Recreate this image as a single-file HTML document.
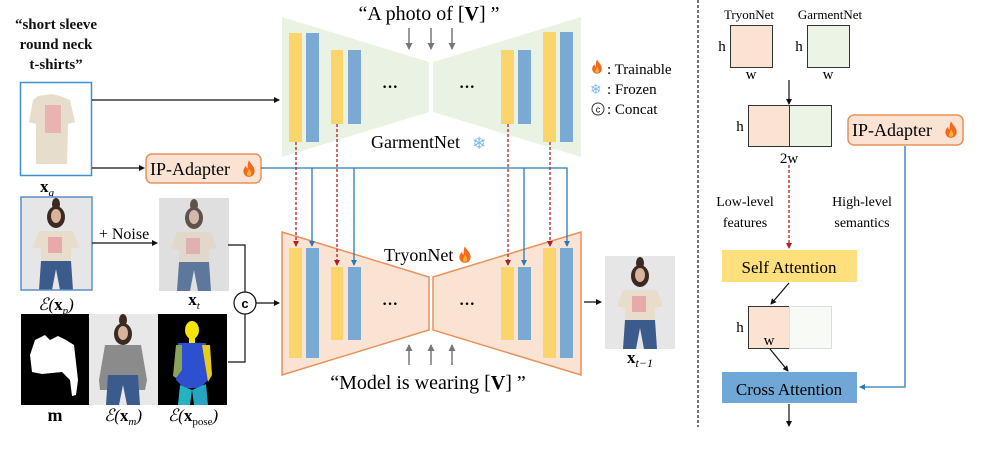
<!DOCTYPE html>
<html><head><meta charset="utf-8"><style>
html,body{margin:0;padding:0;background:#fff;}
svg{display:block;font-family:"Liberation Serif",serif;}
</style></head><body>
<svg width="994" height="456" viewBox="0 0 994 456" xmlns="http://www.w3.org/2000/svg">
<defs>
<marker id="ak" markerWidth="6" markerHeight="6" refX="5" refY="3" orient="auto" markerUnits="userSpaceOnUse"><path d="M0,0 L6,3 L0,6 Z" fill="#111"/></marker>
<marker id="ab" markerWidth="6" markerHeight="6" refX="5" refY="3" orient="auto" markerUnits="userSpaceOnUse"><path d="M0,0 L6,3 L0,6 Z" fill="#2a7ab8"/></marker>
<marker id="ar" markerWidth="6" markerHeight="6" refX="5" refY="3" orient="auto" markerUnits="userSpaceOnUse"><path d="M0,0 L6,3 L0,6 Z" fill="#b02020"/></marker>
<marker id="ag" markerWidth="7" markerHeight="7" refX="6" refY="3.5" orient="auto" markerUnits="userSpaceOnUse"><path d="M0,0 L7,3.5 L0,7 Z" fill="#777"/></marker>
<symbol id="fl" viewBox="0 0 10 12"><path d="M5,0 C6,3 9,4 9,8 C9,10.5 7,12 5,12 C3,12 1,10.5 1,8 C1,6 2,5 3,4 C3,6 4,6 4,6 C4,4 4,2 5,0Z" fill="#f26b1d"/><path d="M5,6 C6,8 7,9 6.5,10.5 C6,11.5 4,11.5 3.6,10.5 C3.3,9.3 4.5,8 5,6Z" fill="#fbb03b"/></symbol>
<g id="person">
<rect x="0" y="0" width="70" height="93" fill="#e6e6e6"/>
<ellipse cx="35" cy="7" rx="4" ry="6" fill="#3a2a22"/>
<ellipse cx="35" cy="20" rx="9" ry="11" fill="#3a2a22"/>
<ellipse cx="35" cy="19" rx="5" ry="7" fill="#d9b39c"/>
<path d="M18,34 L52,34 L58,50 L50,52 L50,64 L20,64 L20,52 L12,50 Z" fill="#e8dccb"/>
<rect x="27" y="40" width="14" height="16" fill="#e7a9a9"/>
<path d="M20,64 L50,64 L52,93 L39,93 L35,72 L31,93 L18,93 Z" fill="#3a5b8c"/>
</g>
</defs>

<!-- Left text -->
<g font-weight="bold" font-size="15" text-anchor="middle" fill="#111">
<text x="56" y="29">“short sleeve</text>
<text x="56" y="49">round neck</text>
<text x="56" y="69">t-shirts”</text>
</g>

<!-- garment image -->
<rect x="20.5" y="82.5" width="71" height="93" fill="#fff" stroke="#3f8fd0" stroke-width="1.5"/>
<path d="M38,96 L52,94 L60,96 L70,100 L75,122 L68,124 L67,164 L36,164 L36,124 L29,122 L33,100 Z" fill="#e6ddcd"/>
<rect x="45" y="105" width="16" height="28" fill="#e9a9a9" opacity="0.8"/>
<text x="47" y="192" font-size="17" font-weight="bold" text-anchor="middle">x<tspan font-size="11" font-style="italic" font-weight="normal" dy="4">g</tspan></text>

<!-- arrows from garment -->
<line x1="92" y1="100" x2="279" y2="100" stroke="#111" stroke-width="1.2" marker-end="url(#ak)"/>
<line x1="92" y1="168" x2="144" y2="168" stroke="#111" stroke-width="1.2" marker-end="url(#ak)"/>

<!-- IP adapter -->
<rect x="146" y="154" width="115" height="29" rx="6" fill="#fbe3d4" stroke="#e8915a" stroke-width="1.5"/>
<text x="150" y="175" font-size="18">IP-Adapter</text>
<use href="#fl" x="242" y="160" width="14" height="17"/>

<!-- person -->
<use href="#person" transform="translate(21,197)"/>
<rect x="21" y="197" width="71" height="93" fill="none" stroke="#5b8fc9" stroke-width="1.5"/>
<text x="56" y="310" font-size="17" text-anchor="middle" font-style="italic">ℰ(<tspan font-weight="bold" font-style="normal">x</tspan><tspan font-size="11" dy="4">p</tspan><tspan dy="-4">)</tspan></text>
<text x="124" y="239" font-size="16" text-anchor="middle">+ Noise</text>
<line x1="92" y1="243" x2="157" y2="243" stroke="#111" stroke-width="1.2" marker-end="url(#ak)"/>
<use href="#person" transform="translate(159,198)"/>
<rect x="159" y="198" width="70" height="93" fill="#ccc" opacity="0.25"/>
<text x="194" y="305" font-size="17" font-weight="bold" text-anchor="middle">x<tspan font-size="11" font-style="italic" font-weight="normal" dy="4">t</tspan></text>

<!-- bottom images -->
<rect x="21" y="314" width="68" height="91" fill="#000"/>
<path d="M35,340 L45,335 L50,340 L58,336 L66,340 L74,345 L78,380 L76,395 L72,396 L70,380 L62,372 L42,374 L32,372 L30,355 Z" fill="#fff"/>
<g><rect x="89" y="314" width="69" height="91" fill="#e8e8e8"/>
<ellipse cx="123" cy="320" rx="4" ry="6" fill="#3a2a22"/>
<ellipse cx="123" cy="334" rx="9" ry="11" fill="#3a2a22"/>
<ellipse cx="123" cy="333" rx="5" ry="7" fill="#d9b39c"/>
<path d="M105,345 L141,345 L147,380 L145,390 L138,390 L138,375 L108,375 L108,390 L100,390 L99,380 Z" fill="#8b8b8b"/>
<path d="M108,375 L138,375 L140,405 L127,405 L123,385 L119,405 L106,405 Z" fill="#3a5b8c"/></g>
<rect x="158" y="314" width="69" height="91" fill="#000"/>
<ellipse cx="192" cy="330" rx="7" ry="9" fill="#f5e50a"/>
<rect x="189" y="337" width="6" height="6" fill="#f5e50a"/>
<path d="M178,343 L206,343 L208,380 L200,388 L184,388 L176,380 Z" fill="#2d4fd0"/>
<path d="M176,345 L182,345 L182,370 L176,378 L173,376 Z" fill="#8aa35a"/>
<path d="M202,345 L210,345 L212,375 L208,382 Z" fill="#e8cc1a"/>
<path d="M180,385 L192,390 L190,405 L178,405 Z" fill="#25b3c4"/>
<path d="M192,390 L206,384 L208,405 L194,405 Z" fill="#27a5c2"/>
<text x="55" y="421" font-size="18" font-weight="bold" text-anchor="middle">m</text>
<text x="123" y="421" font-size="17" text-anchor="middle" font-style="italic">ℰ(<tspan font-weight="bold" font-style="normal">x</tspan><tspan font-size="11" dy="4">m</tspan><tspan dy="-4">)</tspan></text>
<text x="193" y="421" font-size="17" text-anchor="middle" font-style="italic">ℰ(<tspan font-weight="bold" font-style="normal">x</tspan><tspan font-size="11" font-style="normal" dy="4">pose</tspan><tspan dy="-4">)</tspan></text>

<!-- concat lines -->
<polyline points="228,245 245,245 245,292" fill="none" stroke="#111" stroke-width="1.2"/>
<polyline points="228,362 245,362 245,314" fill="none" stroke="#111" stroke-width="1.2"/>
<circle cx="245" cy="303" r="11" fill="#fff" stroke="#111" stroke-width="1.2"/>
<text x="245" y="308" font-size="13" text-anchor="middle" font-family="Liberation Sans,sans-serif" font-weight="bold">c</text>
<line x1="256" y1="303" x2="279" y2="303" stroke="#111" stroke-width="1.2" marker-end="url(#ak)"/>

<!-- GarmentNet trapezoids -->
<path d="M282,17 L429,62 L429,112 L282,157 Z" fill="#eaf3e3"/>
<path d="M433,62 L581,17 L581,157 L433,112 Z" fill="#eaf3e3"/>
<!-- TryonNet trapezoids -->
<path d="M282,232 L429,277 L429,330 L282,375 Z" fill="#fbe3d4" stroke="#e8915a" stroke-width="1.5"/>
<path d="M433,277 L581,232 L581,375 L433,330 Z" fill="#fbe3d4" stroke="#e8915a" stroke-width="1.5"/>

<!-- bars garment -->
<g fill="#f9d56b"><rect x="289" y="33" width="13" height="109"/><rect x="331" y="50" width="12" height="74"/><rect x="501" y="50" width="13" height="74"/><rect x="543" y="32" width="13" height="110"/>
<rect x="289" y="248" width="13" height="110"/><rect x="331" y="267" width="12" height="73"/><rect x="501" y="267" width="13" height="73"/><rect x="543" y="248" width="13" height="110"/></g>
<g fill="#7aaad3"><rect x="306" y="33" width="13" height="109"/><rect x="348" y="50" width="13" height="74"/><rect x="518" y="50" width="13" height="74"/><rect x="560" y="32" width="13" height="110"/>
<rect x="306" y="248" width="13" height="110"/><rect x="348" y="267" width="13" height="73"/><rect x="518" y="267" width="13" height="73"/><rect x="560" y="248" width="13" height="110"/></g>
<g font-size="16" text-anchor="middle" font-weight="bold"><text x="390" y="92">···</text><text x="467" y="92">···</text><text x="390" y="309">···</text><text x="467" y="309">···</text></g>

<!-- texts center -->
<text x="429" y="20" font-size="20" text-anchor="middle">“A photo of [<tspan font-weight="bold">V</tspan>] ”</text>
<g stroke="#777" stroke-width="1.5"><line x1="409" y1="28" x2="409" y2="49" marker-end="url(#ag)"/><line x1="431" y1="28" x2="431" y2="49" marker-end="url(#ag)"/><line x1="452" y1="28" x2="452" y2="49" marker-end="url(#ag)"/>
<line x1="409" y1="365" x2="409" y2="345" marker-end="url(#ag)"/><line x1="431" y1="365" x2="431" y2="345" marker-end="url(#ag)"/><line x1="452" y1="365" x2="452" y2="345" marker-end="url(#ag)"/></g>
<text x="371" y="148" font-size="18">GarmentNet</text>
<text x="472" y="149" font-size="17" fill="#7bbbe8">❄</text>
<text x="384" y="261" font-size="18">TryonNet</text>
<use href="#fl" x="458" y="246" width="14" height="17"/>
<text x="428" y="389" font-size="20" text-anchor="middle">“Model is wearing [<tspan font-weight="bold">V</tspan>] ”</text>

<!-- blue IP lines -->
<polyline points="261,168 567,168 567,246" fill="none" stroke="#2a7ab8" stroke-width="1.3" marker-end="url(#ab)"/>
<g stroke="#2a7ab8" stroke-width="1.3"><line x1="312" y1="168" x2="312" y2="246" marker-end="url(#ab)"/><line x1="354" y1="168" x2="354" y2="265" marker-end="url(#ab)"/><line x1="524" y1="168" x2="524" y2="265" marker-end="url(#ab)"/></g>
<!-- red dashed -->
<g stroke="#b02020" stroke-width="1.3" stroke-dasharray="3,2"><line x1="296" y1="142" x2="296" y2="246" marker-end="url(#ar)"/><line x1="337" y1="124" x2="337" y2="265" marker-end="url(#ar)"/><line x1="508" y1="124" x2="508" y2="265" marker-end="url(#ar)"/><line x1="550" y1="142" x2="550" y2="246" marker-end="url(#ar)"/></g>

<!-- output -->
<line x1="584" y1="302" x2="601" y2="302" stroke="#111" stroke-width="1.2" marker-end="url(#ak)"/>
<use href="#person" transform="translate(605,256)"/>
<text x="640" y="363" font-size="17" font-weight="bold" text-anchor="middle">x<tspan font-size="12" font-style="italic" font-weight="normal" dy="4">t−1</tspan></text>

<!-- legend -->
<use href="#fl" x="591" y="59" width="12" height="15"/>
<text x="607" y="74" font-size="15">: Trainable</text>
<text x="590" y="94" font-size="14" fill="#7bbbe8">❄</text>
<text x="607" y="94" font-size="15">: Frozen</text>
<circle cx="598" cy="109" r="6" fill="#fff" stroke="#333" stroke-width="1"/>
<text x="598" y="112.5" font-size="9" text-anchor="middle" font-family="Liberation Sans,sans-serif">c</text>
<text x="607" y="114" font-size="15">: Concat</text>

<!-- divider -->
<line x1="698" y1="0" x2="698" y2="427" stroke="#111" stroke-width="1.2" stroke-dasharray="3,2"/>

<!-- right panel -->
<text x="749" y="19" font-size="13" text-anchor="middle">TryonNet</text>
<text x="830" y="19" font-size="13" text-anchor="middle">GarmentNet</text>
<rect x="730.5" y="25.5" width="42" height="42" fill="#fbe3d4" stroke="#333" stroke-width="1"/>
<rect x="807.5" y="25.5" width="42" height="42" fill="#ecf4e6" stroke="#333" stroke-width="1"/>
<text x="722" y="51" font-size="15" text-anchor="middle">h</text>
<text x="799" y="51" font-size="15" text-anchor="middle">h</text>
<text x="751" y="79" font-size="15" text-anchor="middle">w</text>
<text x="828" y="79" font-size="15" text-anchor="middle">w</text>
<line x1="789" y1="80" x2="789" y2="104" stroke="#111" stroke-width="1.2" marker-end="url(#ak)"/>
<rect x="748.5" y="105.5" width="41" height="41" fill="#fbe3d4" stroke="#333" stroke-width="1"/>
<rect x="789.5" y="105.5" width="42" height="41" fill="#ecf4e6" stroke="#333" stroke-width="1"/>
<text x="740" y="131" font-size="15" text-anchor="middle">h</text>
<text x="789" y="163" font-size="15" text-anchor="middle">2w</text>
<line x1="789" y1="165" x2="789" y2="248" stroke="#b02020" stroke-width="1.3" stroke-dasharray="3,2" marker-end="url(#ar)"/>
<text x="745" y="206" font-size="14" text-anchor="middle">Low-level</text>
<text x="745" y="227" font-size="14" text-anchor="middle">features</text>
<text x="862" y="206" font-size="14" text-anchor="middle">High-level</text>
<text x="862" y="227" font-size="14" text-anchor="middle">semantics</text>
<rect x="848" y="115" width="115" height="30" rx="6" fill="#fbe3d4" stroke="#e8915a" stroke-width="1.5"/>
<text x="852" y="136" font-size="18">IP-Adapter</text>
<use href="#fl" x="944" y="121" width="14" height="17"/>
<polyline points="905,146 905,387 860,387" fill="none" stroke="#2a7ab8" stroke-width="1.3" marker-end="url(#ab)"/>
<rect x="722" y="250" width="135" height="32" fill="#fddf7e"/>
<text x="789" y="273" font-size="17" text-anchor="middle">Self Attention</text>
<line x1="789" y1="283" x2="771" y2="304" stroke="#111" stroke-width="1.2" marker-end="url(#ak)"/>
<rect x="748.5" y="306.5" width="41" height="42" fill="#fbe3d4" stroke="#333" stroke-width="1"/>
<rect x="789.5" y="306.5" width="42" height="42" fill="#f8faf6" stroke="#ddd" stroke-width="1"/>
<text x="740" y="332" font-size="15" text-anchor="middle">h</text>
<text x="769" y="345" font-size="15" text-anchor="middle">w</text>
<line x1="770" y1="349" x2="788" y2="371" stroke="#111" stroke-width="1.2" marker-end="url(#ak)"/>
<rect x="722" y="372" width="135" height="31" fill="#6fa8d6"/>
<text x="789" y="395" font-size="17" text-anchor="middle">Cross Attention</text>
<line x1="789" y1="404" x2="789" y2="426" stroke="#111" stroke-width="1.2" marker-end="url(#ak)"/>
</svg>
</body></html>
